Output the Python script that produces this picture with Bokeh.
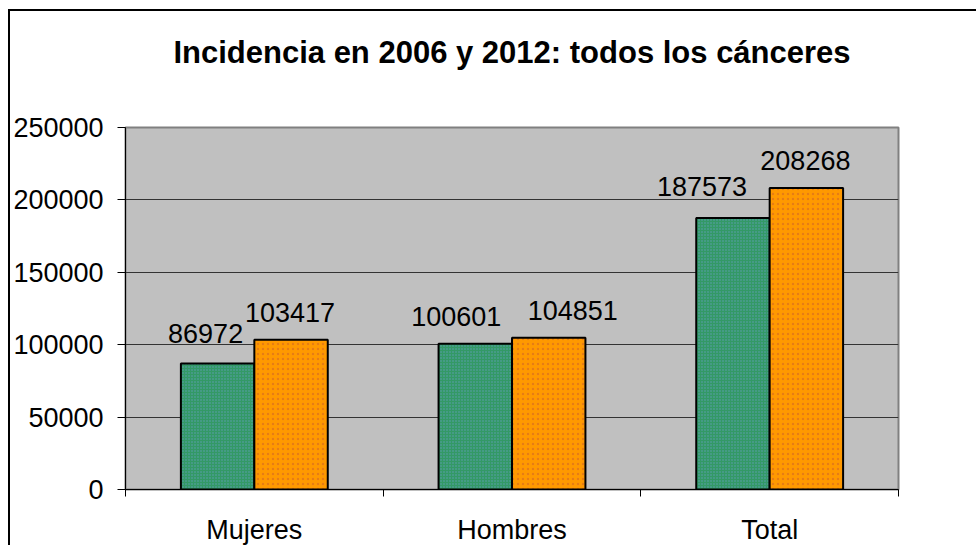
from bokeh.plotting import figure
from bokeh.models import ColumnDataSource, FixedTicker, LabelSet, LinearAxis
from bokeh.core.properties import value
from bokeh.embed import file_html
from bokeh.resources import INLINE

# ---- data ----
categories = ["Mujeres", "Hombres", "Total"]
values_2006 = [86972, 100601, 187573]
values_2012 = [103417, 104851, 208268]
y_ticks = [0, 50000, 100000, 150000, 200000, 250000]
title_text = "Incidencia en 2006 y 2012: todos los cánceres"

# ---- styling (label nudges, like the original's placement) ----
dx_2006 = [-12, -19, -31]
dx_2012 = [-1, 24, -1]
dy_2006 = [21, 18, 22]
dy_2012 = [18, 18, 18]

FONT = "Liberation Sans"
BAR_W = 0.285

p = figure(width=968, height=536, output_backend="svg", toolbar_location=None,
           x_range=(0, len(categories)), y_range=(0, 250000),
           min_border_left=115, min_border_right=80, min_border_top=116,
           min_border_bottom=40)
p.styles = {"border-top": "2px solid black", "border-left": "2px solid black",
            "margin-left": "8px", "margin-top": "9px"}

# chart title: label of an empty axis placed above the plot area
title_axis = LinearAxis(ticker=FixedTicker(ticks=[]), axis_label=title_text,
                        axis_line_color=None, major_tick_line_color=None,
                        minor_tick_line_color=None, axis_label_standoff=58,
                        axis_label_text_font=FONT, axis_label_text_font_size="31px",
                        axis_label_text_font_style="bold", axis_label_text_color="black")
p.add_layout(title_axis, "above")

p.background_fill_color = "#C0C0C0"
p.border_fill_color = "white"
p.outline_line_color = "#808080"
p.outline_line_width = 2

xs = [i + 0.5 for i in range(len(categories))]
src06 = ColumnDataSource(dict(x=[x - BAR_W / 2 for x in xs], top=values_2006,
                              text=[str(v) for v in values_2006], dx=dx_2006, dy=dy_2006))
src12 = ColumnDataSource(dict(x=[x + BAR_W / 2 for x in xs], top=values_2012,
                              text=[str(v) for v in values_2012], dx=dx_2012, dy=dy_2012))

p.vbar(x="x", top="top", width=BAR_W, source=src06, fill_color="#339966",
       line_color="black", line_width=2, hatch_pattern="dot", hatch_scale=3,
       hatch_color="#6F9FD8", hatch_alpha=0.7)
p.vbar(x="x", top="top", width=BAR_W, source=src12, fill_color="#FF9900",
       line_color="black", line_width=2, hatch_pattern="dot", hatch_scale=5,
       hatch_color="#E0761A", hatch_alpha=0.8)

for s in (src06, src12):
    p.add_layout(LabelSet(x="x", y="top", text="text", source=s, x_offset="dx",
                          y_offset="dy", text_align="center", text_baseline="alphabetic",
                          text_font=value(FONT), text_font_size=value("27px"),
                          text_color="black"))

# grid
p.xgrid.grid_line_color = None
p.ygrid.grid_line_color = "#333333"
p.ygrid.grid_line_width = 1
p.ygrid.ticker = FixedTicker(ticks=y_ticks)

# y axis
p.yaxis.ticker = FixedTicker(ticks=y_ticks)
p.yaxis.formatter.use_scientific = False
p.yaxis.axis_line_color = "black"
p.yaxis.major_tick_line_color = "black"
p.yaxis.major_tick_out = 8
p.yaxis.major_tick_in = 0
p.yaxis.minor_tick_line_color = None
p.yaxis.major_label_text_font = FONT
p.yaxis.major_label_text_font_size = "27px"
p.yaxis.major_label_text_color = "black"
p.yaxis.major_label_standoff = 14

# x axis (the lower one)
xaxis = p.below[0]
xaxis.ticker = FixedTicker(ticks=xs, minor_ticks=list(range(len(categories) + 1)))
xaxis.major_label_overrides = {x: c for x, c in zip(xs, categories)}
xaxis.axis_line_color = "black"
xaxis.major_tick_line_color = None
xaxis.major_tick_out = 0
xaxis.major_tick_in = 0
xaxis.minor_tick_line_color = "black"
xaxis.minor_tick_out = 7
xaxis.minor_tick_in = 0
xaxis.major_label_text_font = FONT
xaxis.major_label_text_font_size = "27px"
xaxis.major_label_text_color = "black"
xaxis.major_label_standoff = 18

open("out.html", "w").write(file_html(p, INLINE))
